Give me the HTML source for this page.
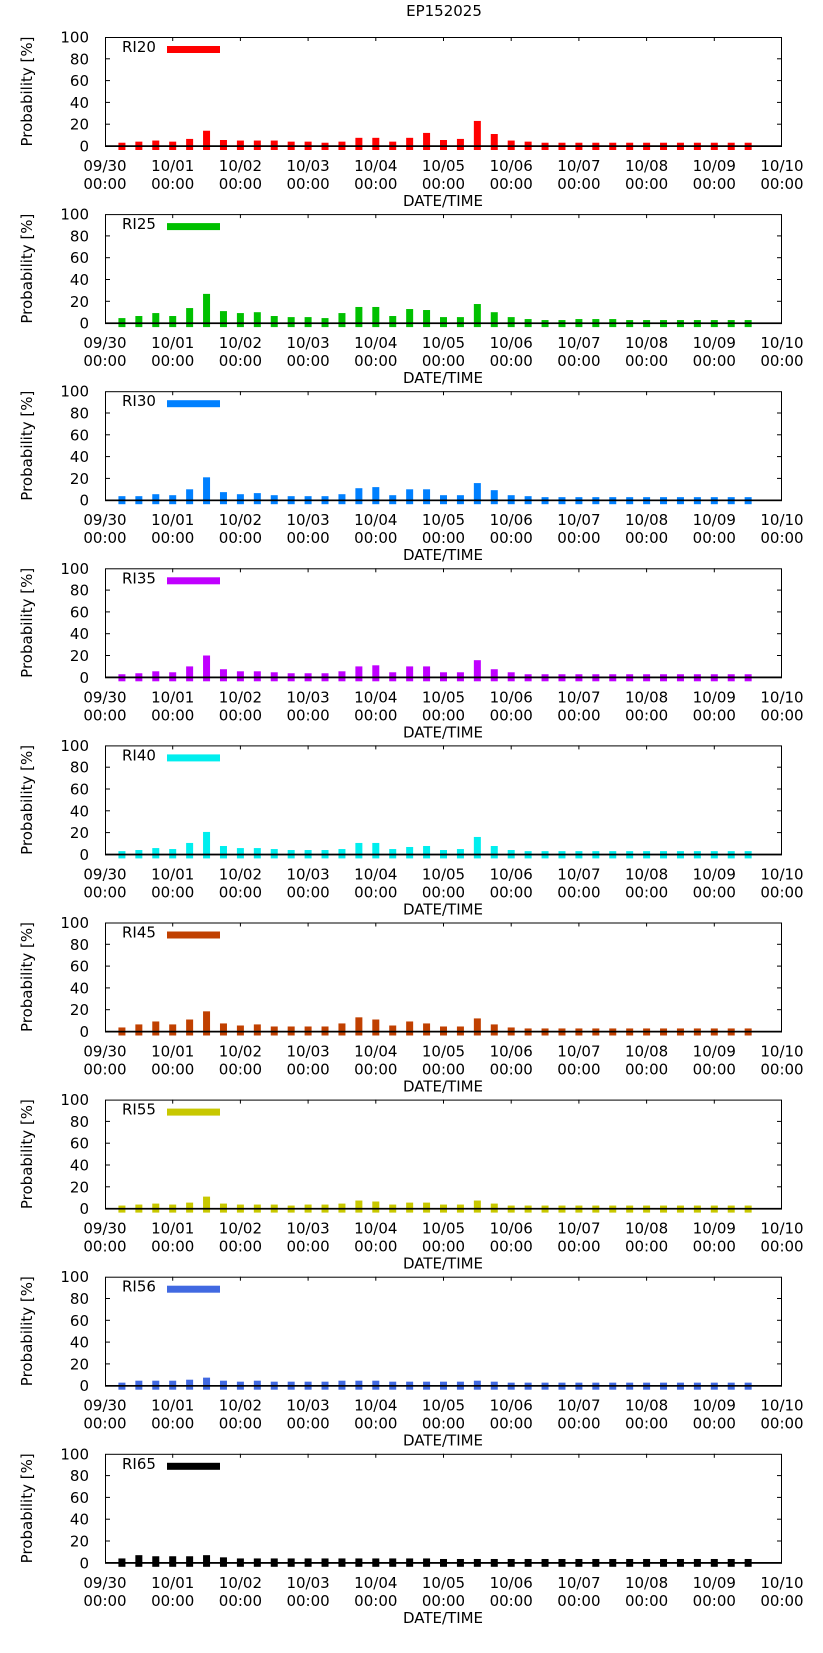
<!DOCTYPE html>
<html><head><meta charset="utf-8">
<style>
html,body{margin:0;padding:0;background:#fff;}
svg{display:block;}
text{font-family:"DejaVu Sans","Liberation Sans",sans-serif;font-size:15px;fill:#000;}
</style></head>
<body>
<svg id="chart" width="823" height="1653" viewBox="0 0 823 1653" xmlns="http://www.w3.org/2000/svg">
<text x="444" y="16" text-anchor="middle">EP152025</text>
</svg>
<script>
// categories: 6-hourly times, in days since 09/30 00:00
const times = [];
for (let i = 1; i <= 38; i++) times.push(i * 0.25);
const xTickLabels = ["09/30","10/01","10/02","10/03","10/04","10/05","10/06","10/07","10/08","10/09","10/10"];
const yTickLabels = [0,20,40,60,80,100];
const seriesNames = ["RI20","RI25","RI30","RI35","RI40","RI45","RI55","RI56","RI65"];
const ri20 = [3,4,5,4,6.5,14,5.5,5,5,5,4,4,3,4,7.5,7.5,4,7.5,12,5.5,6.5,23,11,5,4,3,3,3,3,3,3,3,3,3,3,3,3,3];
const ri25 = [4.6,6.5,9.2,6.5,13.8,26.8,11,9.2,10,6.5,5.5,5.5,4.6,9.2,14.8,14.8,6.5,12.9,12,5.5,5.5,17.5,10,5.5,3.7,2.8,2.8,3.7,3.7,3.7,2.8,2.8,2.8,2.8,2.8,2.8,2.8,2.8];
const ri30 = [3.7,3.7,5.5,4.6,10,21,7.4,5.5,6.5,4.6,3.7,3.7,3.7,5.5,11,12,4.6,10,10,4.6,4.6,15.7,9.2,4.6,3.7,2.8,2.8,2.8,2.8,2.8,2.8,2.8,2.8,2.8,2.8,2.8,2.8,2.8];
const ri35 = [2.8,3.7,5.5,4.6,10,20,7.4,5.5,5.5,4.6,3.7,3.7,3.7,5.5,10,11,4.6,10,10,4.6,4.6,15.7,7.4,4.6,2.8,2.8,2.8,2.8,2.8,2.8,2.8,2.8,2.8,2.8,2.8,2.8,2.8,2.8];
const ri40 = [3,4,5.8,4.9,10.5,20.6,7.7,5.8,5.8,4.9,4,4,4,4.9,10.5,10.5,4.9,6.8,7.7,4,4.9,16,7.7,4,3,3,3,3,3,3,3,3,3,3,3,3,3,3];
const ri45 = [3.7,6.5,9.2,6.5,11,18.5,7.4,5.5,6.5,4.6,4.6,4.6,4.6,7.4,13,11,5.5,9.2,7.4,4.6,4.6,12,6.5,3.7,2.8,2.8,2.8,2.8,2.8,2.8,2.8,2.8,2.8,2.8,2.8,2.8,2.8,2.8];
const ri55 = [2.8,3.7,4.6,3.7,5.5,11,4.6,3.7,3.7,3.7,2.8,3.7,3.7,4.6,7.4,6.5,3.7,5.5,5.5,3.7,3.7,7.4,4.6,2.8,2.8,2.8,2.8,2.8,2.8,2.8,2.8,2.8,2.8,2.8,2.8,2.8,2.8,2.8];
const ri56 = [2.8,4.6,4.6,4.6,5.5,7.4,4.6,3.7,4.6,3.7,3.7,3.7,3.7,4.6,4.6,4.6,3.7,3.7,3.7,3.7,3.7,4.6,3.7,2.8,2.8,2.8,2.8,2.8,2.8,2.8,2.8,2.8,2.8,2.8,2.8,2.8,2.8,2.8];
const ri65 = [4,7,6,6,6,7,5,4,4,4,4,4,4,4,4,4,4,4,4,3.5,3.5,3.5,3.5,3.5,3.5,3.5,3.5,3.5,3.5,3.5,3.5,3.5,3.5,3.5,3.5,3.5,3.5,3.5];
const seriesValues = [ri20,ri25,ri30,ri35,ri40,ri45,ri55,ri56,ri65];
const seriesColors = ["#ff0000","#00c000","#0080ff","#c000ff","#00eeee","#c04000","#c8c800","#4169e1","#000000"];

const NS = "http://www.w3.org/2000/svg";
const svg = document.getElementById("chart");
const L = 105, R = 782, PH = 109, STEP = 177.1, Y0 = 146;
function xScale(d){ return L + (R - L) * d / 10; }
function mk(tag, attrs, parent){
  const e = document.createElementNS(NS, tag);
  for (const k in attrs) e.setAttribute(k, attrs[k]);
  parent.appendChild(e);
  return e;
}
seriesNames.forEach((name, p) => {
  const base = Y0 + STEP * p;
  const yScale = v => base - PH * v / 100;
  const g = mk("g", {}, svg);
  
  
  yTickLabels.forEach(v => {
    const y = yScale(v);
    const t = mk("text", {x: 89, y: y + 5.5, "text-anchor": "end"}, g);
    t.textContent = v;
    
    
    if (v > 0 && v < 100) {
      mk("line", {x1: L, x2: L + 5, y1: y, y2: y, stroke: "#000", "stroke-width": 1}, g);
      mk("line", {x1: R - 5, x2: R, y1: y, y2: y, stroke: "#000", "stroke-width": 1}, g);
    }
  });
  xTickLabels.forEach((lab, i) => {
    const x = xScale(i);
    if (i > 0 && i < 10) {
      mk("line", {x1: x, x2: x, y1: base - PH, y2: base - PH + 4, stroke: "#000", "stroke-width": 1}, g);
    }
    const t1 = mk("text", {x: x, y: base + 25, "text-anchor": "middle"}, g);
    t1.textContent = lab;
    
    
    const t2 = mk("text", {x: x, y: base + 43, "text-anchor": "middle"}, g);
    t2.textContent = "00:00";
    
    
  });
  seriesValues[p].forEach((v, i) => {
    const x = xScale(times[i]);
    const top = yScale(v);
    const b = mk("rect", {x: x - 3.5, y: top, width: 7, height: base + 4 - top, fill: seriesColors[p]}, g);
    
    
  });
  const fr = mk("rect", {x: L + 0.5, y: base - PH + 0.5, width: R - L - 1, height: PH, fill: "none", stroke: "#000", "stroke-width": 1}, g);
  
  
  mk("line", {x1: L, x2: R, y1: base, y2: base, stroke: "#000", "stroke-width": 1.5}, g);
  const lt = mk("text", {x: 122, y: base - PH + 15}, g);
  lt.textContent = name;
  
  
  const ls = mk("rect", {x: 167, y: base - PH + 9, width: 53, height: 7, fill: seriesColors[p]}, g);
  
  
  const yt = mk("text", {x: 0, y: 0, "text-anchor": "middle", transform: "translate(32," + (base - PH / 2) + ") rotate(-90)"}, g);
  yt.textContent = "Probability [%]";
  
  
  const xt = mk("text", {x: 443, y: base + 60, "text-anchor": "middle"}, g);
  xt.textContent = "DATE/TIME";
  
  
});
</script>
</body></html>
